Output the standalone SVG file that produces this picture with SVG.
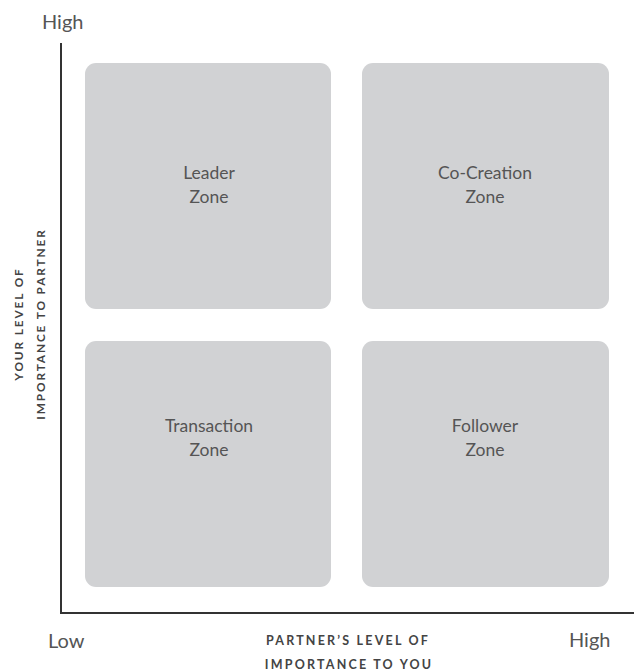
<svg xmlns="http://www.w3.org/2000/svg" width="634" height="671" viewBox="0 0 634 671">
<style>
.zone{fill:#d1d2d4}
.zl{font-family:Lato,"Open Sans",sans-serif;font-size:17.5px;fill:#555;text-anchor:middle}
.ax{font-family:Lato,"Open Sans",sans-serif;font-size:20px;fill:#555}
.al{font-family:Lato,"Open Sans",sans-serif;font-size:12.5px;font-weight:bold;letter-spacing:2.2px;fill:#444;text-anchor:middle}
.axis{stroke:#333;stroke-width:2;fill:none}
</style>
<rect width="634" height="671" fill="#fff"/>
<g id="connectors">
<path class="axis" d="M61 43 V613 H634"/>
</g>
<g id="leader"><rect class="zone" x="85" y="63" width="246" height="246" rx="11"/><text class="zl" x="209" y="179">Leader</text><text class="zl" x="209" y="203">Zone</text></g>
<g id="cocreation"><rect class="zone" x="362" y="63" width="247" height="246" rx="11"/><text class="zl" x="485" y="179">Co-Creation</text><text class="zl" x="485" y="203">Zone</text></g>
<g id="transaction"><rect class="zone" x="85" y="341" width="246" height="246" rx="11"/><text class="zl" x="209" y="432">Transaction</text><text class="zl" x="209" y="456">Zone</text></g>
<g id="follower"><rect class="zone" x="362" y="341" width="247" height="246" rx="11"/><text class="zl" x="485" y="432">Follower</text><text class="zl" x="485" y="456">Zone</text></g>
<g id="labels">
<text class="ax" x="42" y="29">High</text>
<text class="ax" x="48" y="648">Low</text>
<text class="ax" x="569" y="647">High</text>
<text class="al" x="348" y="645">PARTNER’S LEVEL OF</text>
<text class="al" x="349" y="669">IMPORTANCE TO YOU</text>
<text class="al" style="font-size:11.8px;letter-spacing:1.9px" transform="translate(23 324) rotate(-90)">YOUR LEVEL OF</text>
<text class="al" style="font-size:11.8px;letter-spacing:1.9px" transform="translate(45 324) rotate(-90)">IMPORTANCE TO PARTNER</text>
</g>
</svg>
